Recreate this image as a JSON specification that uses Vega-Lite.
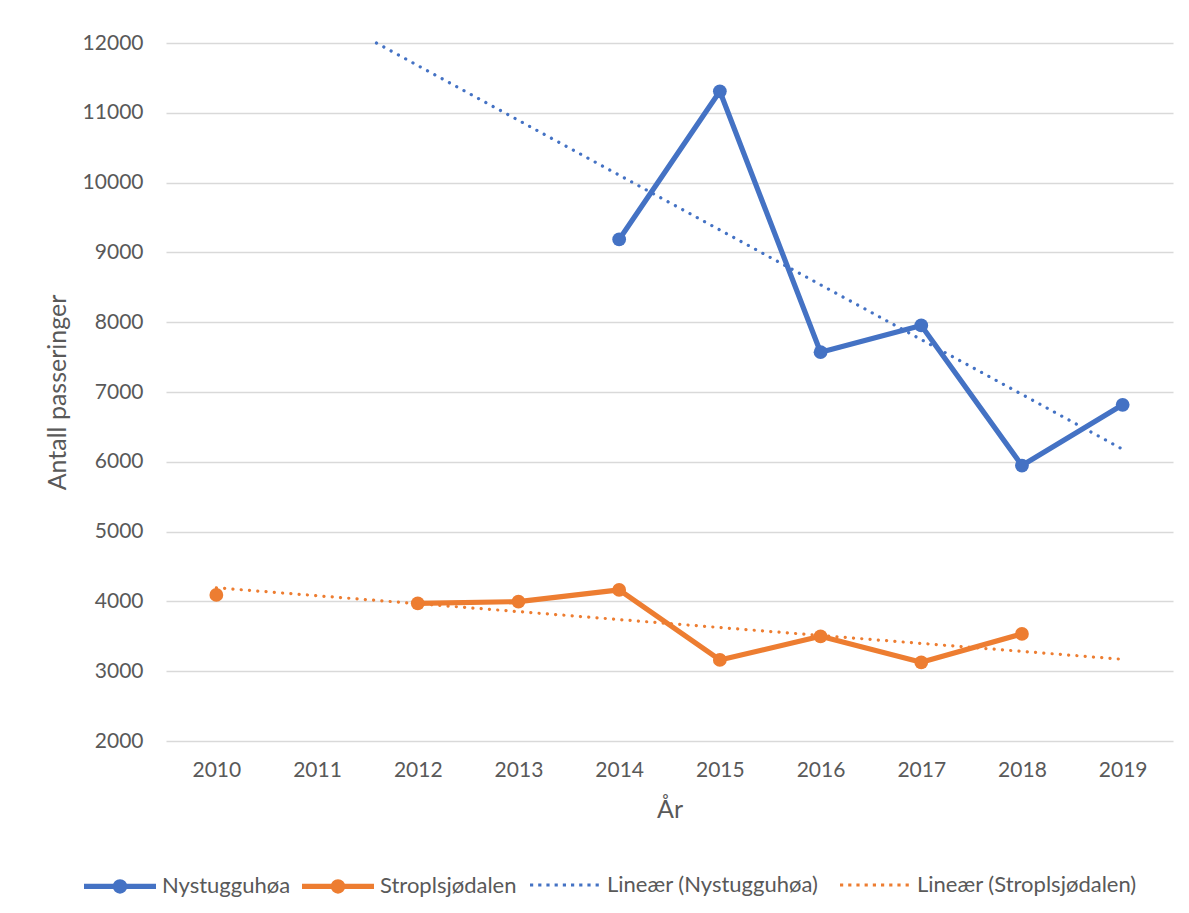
{
  "$schema": "https://vega.github.io/schema/vega-lite/v6.json",
  "width": 1007,
  "height": 698,
  "autosize": {"type": "none"},
  "padding": {"left": 166, "top": 43, "right": 16, "bottom": 172},
  "background": "white",
  "config": {
    "font": "Lato",
    "view": {"stroke": null},
    "axis": {
      "labelFont": "Lato",
      "titleFont": "Lato",
      "labelColor": "#595959",
      "titleColor": "#595959",
      "labelFontSize": 21,
      "titleFontSize": 25,
      "titleFontWeight": "normal",
      "ticks": false,
      "domain": false
    },
    "legend": {
      "title": null,
      "orient": "none",
      "direction": "horizontal",
      "labelFont": "Lato",
      "labelFontSize": 22,
      "labelColor": "#595959",
      "labelOffset": 3,
      "labelLimit": 400,
      "symbolSize": 5184
    }
  },
  "datasets": {
    "obs": [
      {"aar": 2014, "antall": 9186, "serie": "Nystugguhøa"},
      {"aar": 2015, "antall": 11308, "serie": "Nystugguhøa"},
      {"aar": 2016, "antall": 7570, "serie": "Nystugguhøa"},
      {"aar": 2017, "antall": 7953, "serie": "Nystugguhøa"},
      {"aar": 2018, "antall": 5946, "serie": "Nystugguhøa"},
      {"aar": 2019, "antall": 6817, "serie": "Nystugguhøa"},
      {"aar": 2010, "antall": 4093, "serie": "Stroplsjødalen"},
      {"aar": 2011, "antall": null, "serie": "Stroplsjødalen"},
      {"aar": 2012, "antall": 3972, "serie": "Stroplsjødalen"},
      {"aar": 2013, "antall": 3997, "serie": "Stroplsjødalen"},
      {"aar": 2014, "antall": 4165, "serie": "Stroplsjødalen"},
      {"aar": 2015, "antall": 3161, "serie": "Stroplsjødalen"},
      {"aar": 2016, "antall": 3500, "serie": "Stroplsjødalen"},
      {"aar": 2017, "antall": 3127, "serie": "Stroplsjødalen"},
      {"aar": 2018, "antall": 3534, "serie": "Stroplsjødalen"}
    ],
    "trend": [
      {"aar": 2011.59, "antall": 12000, "serie": "Lineær (Nystugguhøa)"},
      {"aar": 2019, "antall": 6180, "serie": "Lineær (Nystugguhøa)"},
      {"aar": 2010, "antall": 4195, "serie": "Lineær (Stroplsjødalen)"},
      {"aar": 2019, "antall": 3170, "serie": "Lineær (Stroplsjødalen)"}
    ]
  },
  "encoding": {
    "x": {
      "field": "aar",
      "type": "quantitative",
      "scale": {"domain": [2009.5, 2019.5], "nice": false, "zero": false},
      "axis": {
        "title": "År",
        "values": [2010, 2011, 2012, 2013, 2014, 2015, 2016, 2017, 2018, 2019],
        "format": "d",
        "grid": false,
        "labelPadding": 18,
        "titlePadding": 17
      }
    },
    "y": {
      "field": "antall",
      "type": "quantitative",
      "scale": {"domain": [2000, 12000], "nice": false, "zero": false},
      "axis": {
        "title": "Antall passeringer",
        "values": [2000, 3000, 4000, 5000, 6000, 7000, 8000, 9000, 10000, 11000, 12000],
        "format": "d",
        "grid": true,
        "gridColor": "#d9d9d9",
        "gridWidth": 1.4,
        "labelPadding": 23,
        "titlePadding": 12
      }
    }
  },
  "layer": [
    {
      "data": {"name": "obs"},
      "mark": {"type": "line", "strokeWidth": 5.2, "strokeJoin": "round", "strokeCap": "round", "invalid": "break-paths-filter-domains"},
      "encoding": {
        "color": {
          "field": "serie",
          "type": "nominal",
          "scale": {"domain": ["Nystugguhøa", "Stroplsjødalen"], "range": ["#4472C4", "#ED7D31"]},
          "legend": {
            "legendX": -85,
            "legendY": 804,
            "columnPadding": 0,
            "symbolType": "M-1,0H1M0.13,0A0.13,0.13 0 1,1 -0.13,0A0.13,0.13 0 1,1 0.13,0ZM0.04,0A0.04,0.04 0 1,1 -0.04,0A0.04,0.04 0 1,1 0.04,0Z",
            "symbolStrokeWidth": 5.2,
            "symbolOpacity": 1
          }
        }
      }
    },
    {
      "data": {"name": "obs"},
      "mark": {"type": "point", "filled": true, "size": 190, "opacity": 1},
      "encoding": {
        "fill": {
          "field": "serie",
          "type": "nominal",
          "scale": {"domain": ["Nystugguhøa", "Stroplsjødalen"], "range": ["#4472C4", "#ED7D31"]},
          "legend": null
        }
      }
    },
    {
      "data": {"name": "trend"},
      "mark": {"type": "line", "strokeWidth": 3.2, "strokeDash": [0.1, 8.2], "strokeCap": "round"},
      "encoding": {
        "stroke": {
          "field": "serie",
          "type": "nominal",
          "scale": {"domain": ["Lineær (Nystugguhøa)", "Lineær (Stroplsjødalen)"], "range": ["#4472C4", "#ED7D31"]},
          "legend": {
            "legendX": 362,
            "legendY": 804,
            "columnPadding": 14,
            "symbolType": "M-1,0H1",
            "symbolStrokeWidth": 3.2,
            "symbolDash": [3.2, 5],
            "symbolOpacity": 1
          }
        }
      }
    }
  ]
}
